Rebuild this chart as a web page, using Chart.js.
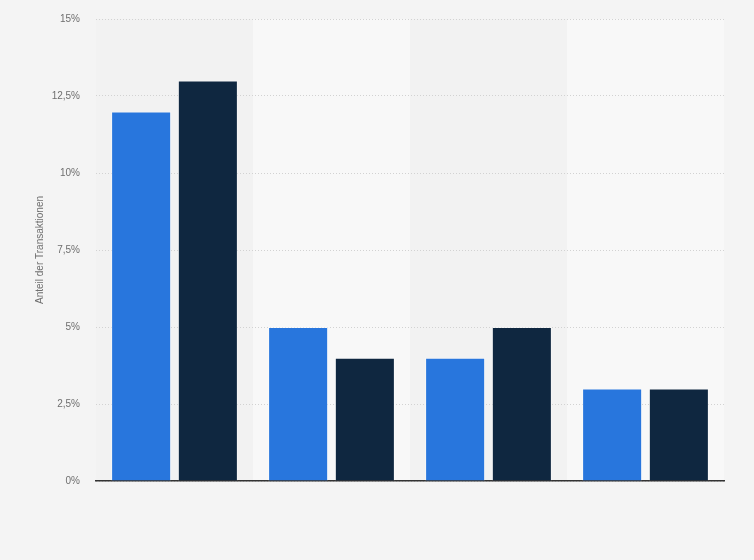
<!DOCTYPE html>
<html>
<head>
<meta charset="utf-8">
<script src="https://cdn.jsdelivr.net/npm/chart.js@4/dist/chart.umd.min.js"></script>
<style>
  html, body { margin: 0; padding: 0; background: #f4f4f4; }
  #wrap { width: 754px; height: 560px; }
</style>
</head>
<body>
<div id="wrap"><canvas id="c" width="754" height="560"></canvas></div>
<script>
const categories = ["", "", "", ""];
const seriesA = [12, 5, 4, 3];
const seriesB = [13, 4, 5, 3];
const yTicks = [0, 2.5, 5, 7.5, 10, 12.5, 15];
const yTitle = "Anteil der Transaktionen";

const bandPlugin = {
  id: 'bands',
  beforeDraw(chart) {
    const {ctx, chartArea, scales} = chart;
    const x = scales.x;
    const n = categories.length;
    const w = (chartArea.right - chartArea.left) / n;
    ctx.save();
    for (let i = 0; i < n; i++) {
      const cx = x.getPixelForValue(i);
      ctx.fillStyle = (i % 2 === 0) ? '#f2f2f2' : '#f8f8f8';
      ctx.fillRect(cx - w / 2, chartArea.top, w, chartArea.bottom - chartArea.top);
    }
    ctx.restore();
  }
};

new Chart(document.getElementById('c'), {
  type: 'bar',
  data: {
    labels: categories,
    datasets: [
      { data: seriesA, backgroundColor: '#2876dd', borderColor: 'rgba(255,255,255,0.45)', borderWidth: 1,
        categoryPercentage: 0.85, barPercentage: 0.9 },
      { data: seriesB, backgroundColor: '#0f2740', borderColor: 'rgba(255,255,255,0.35)', borderWidth: 1,
        categoryPercentage: 0.85, barPercentage: 0.9 }
    ]
  },
  options: {
    responsive: false,
    animation: false,
    devicePixelRatio: 1,
    layout: { padding: { top: 19, bottom: 79, left: 0, right: 30 } },
    plugins: { legend: { display: false }, tooltip: { enabled: false } },
    scales: {
      x: {
        afterFit(scale) { scale.height = 0; scale.paddingLeft = 0; scale.paddingRight = 0; },
        ticks: { display: false },
        grid: { display: false },
        border: { display: true, color: '#333333', width: 1.5 }
      },
      y: {
        min: 0, max: 15,
        afterFit(scale) { scale.width = 96; scale.paddingTop = 0; scale.paddingBottom = 0; },
        afterBuildTicks(scale) { scale.ticks = yTicks.map(v => ({ value: v })); },
        ticks: {
          padding: 16,
          color: '#6e6e6e',
          font: { family: 'Arial, "Liberation Sans", sans-serif', size: 10 },
          callback: v => String(v).replace('.', ',') + '%'
        },
        grid: { color: '#d2d2d2', drawTicks: false, lineWidth: 1 },
        border: { display: false, dash: [1, 2] },
        title: {
          display: true,
          text: yTitle,
          color: '#6e6e6e',
          font: { family: 'Arial, "Liberation Sans", sans-serif', size: 10 },
          padding: { top: 34, bottom: 0 }
        }
      }
    }
  },
  plugins: [bandPlugin]
});
</script>
</body>
</html>
